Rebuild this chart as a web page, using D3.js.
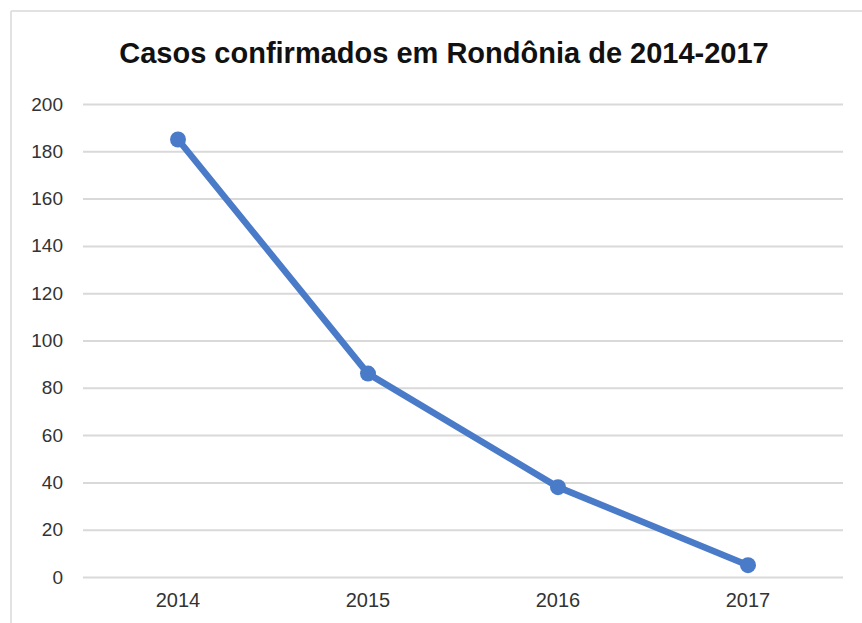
<!DOCTYPE html>
<html>
<head>
<meta charset="utf-8">
<script src="https://cdn.jsdelivr.net/npm/d3@7"></script>
<style>
  body { margin: 0; background: #fff; }
  svg { display: block; font-family: "Liberation Sans", Arial, sans-serif; }
</style>
</head>
<body>
<div id="chart"></div>
<script>
// Chart data
const years = ['2014', '2015', '2016', '2017'];
const cases = [185, 86, 38, 5];
const yTicks = [0, 20, 40, 60, 80, 100, 120, 140, 160, 180, 200];
const title = 'Casos confirmados em Rondônia de 2014-2017';

const width = 862;
const height = 623;
const margin = { top: 104, right: 19, bottom: 46, left: 83 };

const svg = d3.select('#chart')
    .append('svg')
    .attr('width', width)
    .attr('height', height);

// Frame lines (top and left)
svg.append('line')
    .attr('x1', 11).attr('x2', width).attr('y1', 11).attr('y2', 11)
    .attr('stroke', '#e2e2e2').attr('stroke-width', 2);
svg.append('line')
    .attr('x1', 11).attr('x2', 11).attr('y1', 11).attr('y2', height)
    .attr('stroke', '#e2e2e2').attr('stroke-width', 2);

// Title
svg.append('text')
    .attr('x', 444)
    .attr('y', 63)
    .attr('text-anchor', 'middle')
    .attr('font-size', '29px')
    .attr('font-weight', 'bold')
    .attr('fill', '#111')
    .text(title);

const x = d3.scaleBand()
    .domain(years)
    .range([margin.left, width - margin.right]);

const y = d3.scaleLinear()
    .domain([0, 200])
    .range([height - margin.bottom, margin.top]);

// Gridlines + y labels
const yAxis = svg.append('g')
    .attr('transform', `translate(${margin.left},0)`)
    .call(d3.axisLeft(y)
        .tickValues(yTicks)
        .tickSize(-(width - margin.left - margin.right))
        .tickPadding(20));

yAxis.select('.domain').remove();
yAxis.selectAll('.tick line')
    .attr('stroke', '#d9d9d9')
    .attr('stroke-width', 2);
yAxis.selectAll('.tick text')
    .attr('font-size', '19px')
    .attr('fill', '#333')
    .attr('font-family', '"Liberation Sans", Arial, sans-serif');

// X labels
const xAxis = svg.append('g')
    .attr('transform', `translate(0,${height - margin.bottom})`)
    .call(d3.axisBottom(x).tickSize(0).tickPadding(16));

xAxis.select('.domain').remove();
xAxis.selectAll('.tick text')
    .attr('font-size', '20px')
    .attr('fill', '#333')
    .attr('font-family', '"Liberation Sans", Arial, sans-serif');

// Line
const line = d3.line()
    .x((d, i) => x(years[i]) + x.bandwidth() / 2)
    .y(d => y(d));

svg.append('path')
    .datum(cases)
    .attr('fill', 'none')
    .attr('stroke', '#4a7bc8')
    .attr('stroke-width', 6.5)
    .attr('stroke-linejoin', 'round')
    .attr('d', line);

svg.selectAll('.dot')
    .data(cases)
    .enter().append('circle')
    .attr('class', 'dot')
    .attr('cx', (d, i) => x(years[i]) + x.bandwidth() / 2)
    .attr('cy', d => y(d))
    .attr('r', 8)
    .attr('fill', '#4a7bc8');
</script>
</body>
</html>
